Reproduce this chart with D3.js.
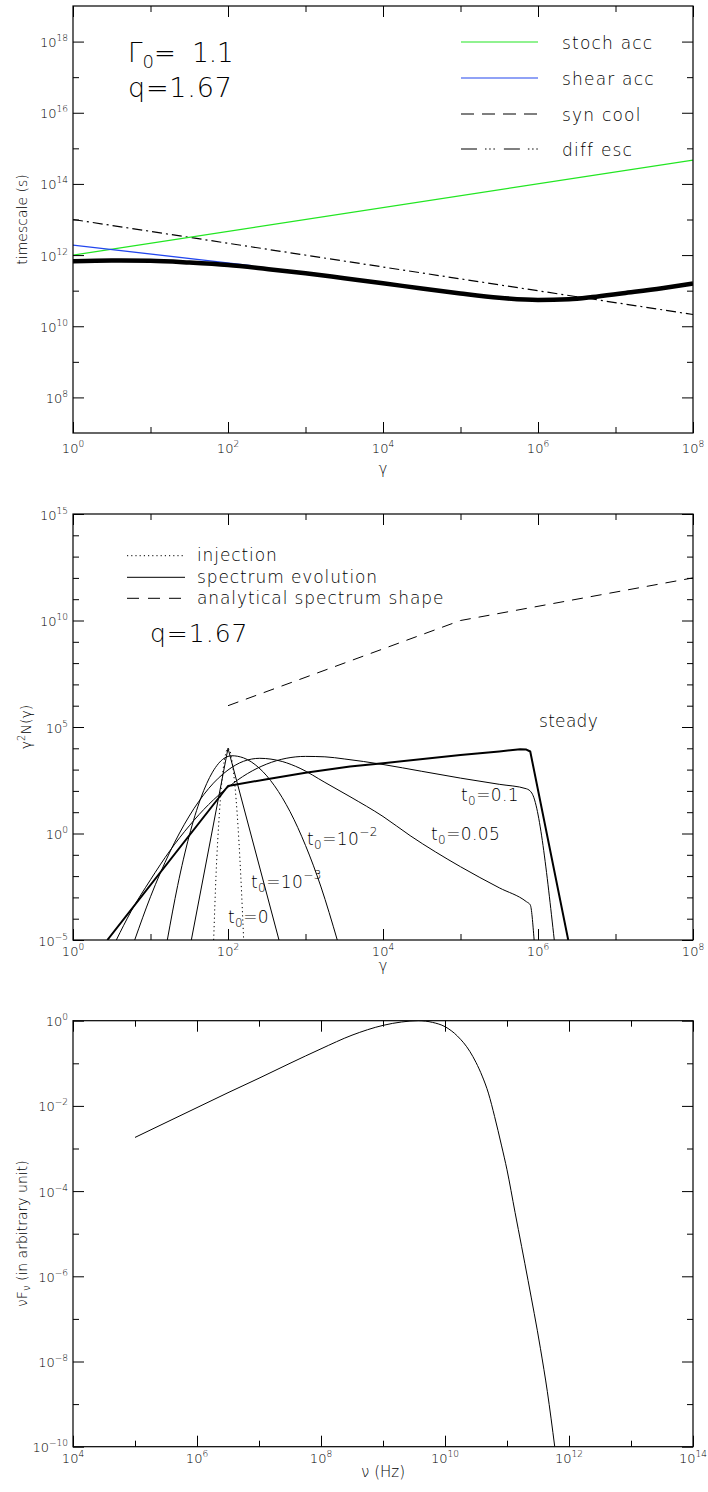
<!DOCTYPE html>
<html>
<head>
<meta charset="utf-8">
<script src="https://cdn.jsdelivr.net/npm/d3@7"></script>
<style>
  html, body { margin: 0; padding: 0; background: #fff; }
  svg { display: block; }
  text { font-family: "DejaVu Sans", "Liberation Sans", sans-serif; font-weight: 200; fill: #000; white-space: pre; }
</style>
</head>
<body>
<svg id="fig" width="708" height="1492"></svg>
<script>
// All curve values are given in decades: [log10 x, log10 y].

// ---------- Panel 1: timescales versus Lorentz factor ----------
const stochAcc = [[0, 12.0], [8, 14.67]];
const shearAcc = [[0, 12.28], [2.3, 11.705]];
const diffEsc  = [[0, 13.0], [8, 10.33]];
const totalTime = [
  [0, 11.83], [0.5, 11.85], [1.0, 11.84], [1.5, 11.79], [2.0, 11.72], [2.5, 11.61],
  [3.0, 11.49], [3.5, 11.35], [4.0, 11.21], [4.5, 11.06], [5.0, 10.92], [5.5, 10.80],
  [6.0, 10.74], [6.4, 10.76], [6.7, 10.82], [7.1, 10.93], [7.6, 11.07], [8.0, 11.20]
];
const legend1 = ["stoch acc", "shear acc", "syn cool", "diff esc"];

// ---------- Panel 2: electron spectrum evolution ----------
const injection = [
  [1.815, -5], [1.845, -2], [1.89, 1], [1.937, 3], [1.97, 3.75], [2.0, 4.0],
  [2.035, 3.75], [2.067, 3], [2.117, 1], [2.165, -2], [2.202, -5]
];
const specT1e3 = [[1.527, -5], [2.0, 4.0], [2.658, -5]];
const specT1e2 = [
  [1.217, -5], [1.35, -2.45], [1.5, -0.1], [1.65, 1.67], [1.8, 2.88], [1.95, 3.53],
  [2.05, 3.65], [2.2, 3.55], [2.4, 3.08], [2.6, 2.24], [2.8, 1.03], [3.0, -0.56],
  [3.2, -2.51], [3.41, -5]
];
const specT005 = [
  [0.796, -5], [1.0, -2.97], [1.25, -0.87], [1.5, 0.82], [1.75, 2.11], [2.0, 2.98],
  [2.2, 3.39], [2.41, 3.53], [2.7, 3.38], [2.93, 3.06], [3.25, 2.4], [3.574, 1.73],
  [4.0, 0.8], [4.35, -0.1], [5.0, -1.56], [5.5, -2.55], [5.85, -3.2], [5.9, -3.35], [5.95, -5]
];
const specT01 = [
  [0.559, -5], [0.75, -3.65], [1.0, -2.17], [1.25, -0.81], [1.5, 0.36], [1.75, 1.36],
  [2.0, 2.17], [2.25, 2.81], [2.5, 3.26], [2.75, 3.53], [3.0, 3.62], [3.25, 3.6],
  [3.5, 3.5], [3.75, 3.38], [4.0, 3.24], [4.5, 2.92], [5.0, 2.6], [5.5, 2.31],
  [5.85, 2.1], [5.92, 1.9], [6.21, -5]
];
const specSteady = [
  [0.443, -5], [2.0, 2.23], [2.5, 2.55], [3.0, 2.85], [3.574, 3.15], [4.0, 3.3],
  [5.0, 3.68], [5.5, 3.85], [5.77, 3.96], [5.85, 3.94], [5.9, 3.85], [6.39, -5]
];
const analyticShape = [[2, 6], [5, 10], [8, 12]];
const legend2 = ["injection", "spectrum evolution", "analytical spectrum shape"];

// ---------- Panel 3: synchrotron spectrum ----------
const syncSpectrum = [
  [5.0, -2.74], [5.5, -2.39], [6.0, -2.04], [6.5, -1.69], [7.0, -1.35], [7.5, -1.0],
  [8.0, -0.66], [8.5, -0.34], [9.0, -0.11], [9.3, -0.03], [9.57, 0], [9.8, -0.04],
  [10.0, -0.14], [10.2, -0.36], [10.4, -0.72], [10.5, -0.98], [10.6, -1.3],
  [10.7, -1.7], [10.8, -2.25], [10.91, -2.92], [11.0, -3.5], [11.13, -4.5],
  [11.34, -6.1], [11.54, -7.7], [11.65, -8.7], [11.77, -10]
];

// Tick exponents
const ticks1 = { xMajor: [0, 2, 4, 6, 8], xMinor: [1, 3, 5, 7],
                 yMajor: [8, 10, 12, 14, 16, 18], yMinor: [9, 11, 13, 15, 17] };
const ticks2 = { xMajor: [0, 2, 4, 6, 8], xMinor: [1, 3, 5, 7],
                 yMajor: [-5, 0, 5, 10, 15],
                 yMinor: [-4, -3, -2, -1, 1, 2, 3, 4, 6, 7, 8, 9, 11, 12, 13, 14] };
const ticks3 = { xMajor: [4, 6, 8, 10, 12, 14], xMinor: [5, 7, 9, 11, 13],
                 yMajor: [-10, -8, -6, -4, -2, 0], yMinor: [-9, -7, -5, -3, -1] };

// ---------- drawing ----------
const svg = d3.select("#fig");
const LEFT = 73, RIGHT = 693;
const MAJOR = 11, MINOR = 6;
const dec = v => Math.pow(10, v);

function makePanel(top, bottom, xDom, yDom, labelGap) {
  const x = d3.scaleLog().domain(xDom.map(dec)).range([LEFT, RIGHT]);
  const y = d3.scaleLog().domain(yDom.map(dec)).range([bottom, top]);
  return { x, y, top, bottom, labelGap };
}

function drawAxes(p, t) {
  const g = svg.append("g");
  const put = (gen, tr, vals, size) => {
    g.append("g").attr("transform", tr)
      .call(gen.tickValues(vals.map(dec)).tickSize(size).tickSizeOuter(0).tickFormat(() => ""))
      .call(s => s.select(".domain").remove())
      .call(s => s.selectAll("line").attr("stroke", "#000").attr("stroke-width", 1));
  };
  put(d3.axisBottom(p.x), `translate(0,${p.bottom})`, t.xMajor, -MAJOR);
  put(d3.axisBottom(p.x), `translate(0,${p.bottom})`, t.xMinor, -MINOR);
  put(d3.axisTop(p.x), `translate(0,${p.top})`, t.xMajor, -MAJOR);
  put(d3.axisTop(p.x), `translate(0,${p.top})`, t.xMinor, -MINOR);
  put(d3.axisLeft(p.y), `translate(${LEFT},0)`, t.yMajor, -MAJOR);
  put(d3.axisLeft(p.y), `translate(${LEFT},0)`, t.yMinor, -MINOR);
  put(d3.axisRight(p.y), `translate(${RIGHT},0)`, t.yMajor, -MAJOR);
  put(d3.axisRight(p.y), `translate(${RIGHT},0)`, t.yMinor, -MINOR);
  g.append("rect").attr("x", LEFT).attr("y", p.top)
    .attr("width", RIGHT - LEFT).attr("height", p.bottom - p.top)
    .attr("fill", "none").attr("stroke", "#000").attr("stroke-width", 1.2);

  const lab = (px, py, e, anchor) => {
    const tx = g.append("text").attr("x", px).attr("y", py)
      .attr("text-anchor", anchor).style("font-size", "13px");
    tx.append("tspan").text("10");
    tx.append("tspan").attr("dy", -6).style("font-size", "9px")
      .text(String(e).replace("-", "\u2212"));
  };
  t.xMajor.forEach(e => lab(p.x(dec(e)), p.bottom + p.labelGap, e, "middle"));
  t.yMajor.forEach(e => lab(LEFT - 5, p.y(dec(e)) + 5.5, e, "end"));
}

function drawLine(p, data, opts) {
  const line = d3.line()
    .x(d => p.x(dec(d[0])))
    .y(d => p.y(dec(d[1])))
    .curve(opts.curve || d3.curveLinear);
  const clipId = "clip" + Math.round(p.top);
  svg.append("path").datum(data)
    .attr("d", line)
    .attr("fill", "none")
    .attr("stroke", opts.color || "#000")
    .attr("stroke-width", opts.width || 1)
    .attr("stroke-dasharray", opts.dash || null)
    .attr("stroke-linejoin", "round")
    .attr("clip-path", `url(#${clipId})`);
}

function addClip(p) {
  svg.append("clipPath").attr("id", "clip" + Math.round(p.top))
    .append("rect").attr("x", LEFT).attr("y", p.top)
    .attr("width", RIGHT - LEFT).attr("height", p.bottom - p.top);
}

function text(x, y, str, size, spacing) {
  return svg.append("text").attr("x", x).attr("y", y)
    .style("font-size", size + "px")
    .style("letter-spacing", (spacing || 0) + "px")
    .text(str);
}

// t₀ style label: "t" + subscript 0 + rest (optionally with a superscript)
function tLabel(x, y, rest, sup) {
  const t = svg.append("text").attr("x", x).attr("y", y)
    .style("font-size", "17px").style("letter-spacing", "0.4px");
  t.append("tspan").text("t");
  t.append("tspan").attr("dy", 4).style("font-size", "12px").text("0");
  t.append("tspan").attr("dy", -4).text(rest);
  if (sup) t.append("tspan").attr("dy", -9).style("font-size", "12px").text(sup);
}

// ----- Panel 1 -----
const p1 = makePanel(6, 433, [0, 8], [7, 19], 20);
addClip(p1);
drawLine(p1, diffEsc, { dash: "10,4,2,4", width: 1.2 });
drawLine(p1, stochAcc, { color: "#22e622", width: 1.3 });
drawLine(p1, shearAcc, { color: "#2246ee", width: 1.3 });
drawLine(p1, totalTime, { width: 4.5, curve: d3.curveMonotoneX });
drawAxes(p1, ticks1);

svg.append("text").attr("x", 128).attr("y", 62).style("font-size", "26px")
  .call(t => {
    t.append("tspan").text("\u0393");
    t.append("tspan").attr("dy", 6).style("font-size", "18px").text("0");
    t.append("tspan").attr("dy", -6).text("=  1.1");
  });
text(128, 97, "q=1.67", 27, 0.8);

const leg1Style = [
  { color: "#22e622", dash: null },
  { color: "#2246ee", dash: null },
  { color: "#000", dash: "13,8" },
  { color: "#000", dash: "16,8,1.5,2.7,1.5,2.7,1.5,9" }
];
const leg1Y = [42, 78, 114, 149];
legend1.forEach((name, i) => {
  svg.append("line").attr("x1", 461).attr("x2", 538).attr("y1", leg1Y[i]).attr("y2", leg1Y[i])
    .attr("stroke", leg1Style[i].color).attr("stroke-width", 1.2)
    .attr("stroke-dasharray", leg1Style[i].dash);
  text(562, leg1Y[i] + 7, name, 17, 1.2);
});

text(383, 474, "\u03b3", 15).attr("text-anchor", "middle");
svg.append("text").attr("transform", `translate(27,${(p1.top + p1.bottom) / 2}) rotate(-90)`)
  .attr("text-anchor", "middle").style("font-size", "14px").text("timescale (s)");

// ----- Panel 2 -----
const p2 = makePanel(514, 940, [0, 8], [-5, 15], 16);
addClip(p2);
drawLine(p2, injection, { dash: "1.2,3", curve: d3.curveMonotoneX });
drawLine(p2, specT1e3, {});
drawLine(p2, specT1e2, { curve: d3.curveMonotoneX });
drawLine(p2, specT005, { curve: d3.curveMonotoneX });
drawLine(p2, specT01, { curve: d3.curveMonotoneX });
drawLine(p2, specSteady, { width: 2 });
drawLine(p2, analyticShape, { dash: "11,8" });
drawAxes(p2, ticks2);

const leg2Dash = ["1.2,3", null, "12,9"];
const leg2Y = [555.7, 577.3, 598.3];
legend2.forEach((name, i) => {
  svg.append("line").attr("x1", 127).attr("x2", 185).attr("y1", leg2Y[i]).attr("y2", leg2Y[i])
    .attr("stroke", "#000").attr("stroke-width", 1).attr("stroke-dasharray", leg2Dash[i]);
  text(197, leg2Y[i] + 5.5, name, 17, 0.9);
});
text(150, 642, "q=1.67", 25, 1);
text(539, 727, "steady", 17, 0.3);
tLabel(461, 801, "=0.1");
tLabel(431, 840, "=0.05");
tLabel(307, 845, "=10", "\u22122");
tLabel(251, 888, "=10", "\u22123");
tLabel(228, 923, "=0");

text(383, 971, "\u03b3", 15).attr("text-anchor", "middle");
svg.append("text").attr("transform", `translate(31,${(p2.top + p2.bottom) / 2}) rotate(-90)`)
  .attr("text-anchor", "middle").style("font-size", "14px")
  .call(t => {
    t.append("tspan").text("\u03b3");
    t.append("tspan").attr("dy", -6).style("font-size", "10px").text("2");
    t.append("tspan").attr("dy", 6).text("N(\u03b3)");
  });

// ----- Panel 3 -----
const p3 = makePanel(1020.7, 1446.7, [4, 14], [-10, 0], 16);
addClip(p3);
drawLine(p3, syncSpectrum, { curve: d3.curveMonotoneX });
drawAxes(p3, ticks3);

text(383, 1477, "\u03bd (Hz)", 15).attr("text-anchor", "middle");
svg.append("text").attr("transform", `translate(27,${(p3.top + p3.bottom) / 2}) rotate(-90)`)
  .attr("text-anchor", "middle").style("font-size", "14px")
  .call(t => {
    t.append("tspan").text("\u03bdF");
    t.append("tspan").attr("dy", 3).style("font-size", "10px").text("\u03bd");
    t.append("tspan").attr("dy", -3).text(" (in arbitrary unit)");
  });
</script>
</body>
</html>
